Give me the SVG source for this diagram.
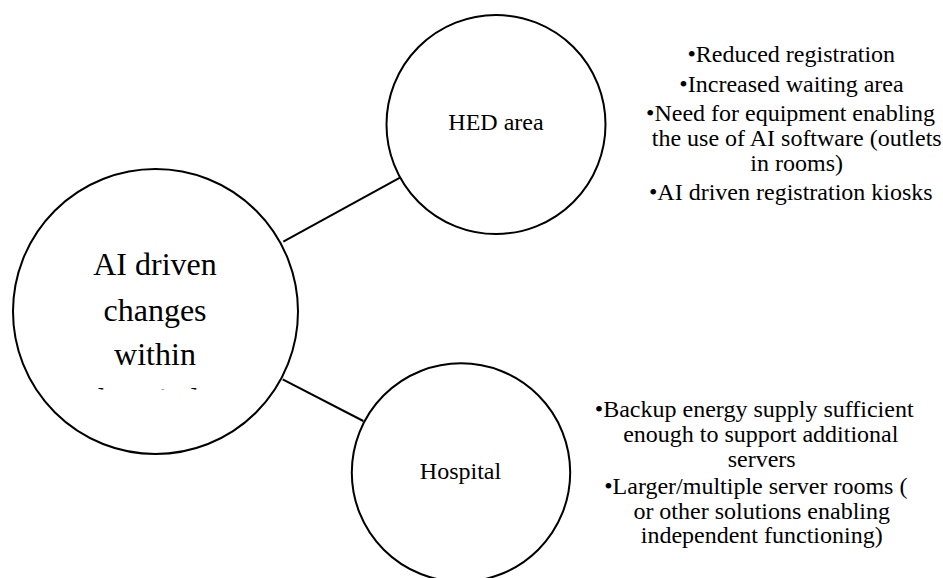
<svg xmlns="http://www.w3.org/2000/svg" width="943" height="578" viewBox="0 0 943 578">
  <style>
    .node { fill: #ffffff; stroke: #000000; stroke-width: 2; }
    .link { stroke: #000000; stroke-width: 2; fill: none; }
    text { font-family: "Liberation Serif", "Times New Roman", serif; fill: #000000; text-anchor: middle; }
    .big { font-size: 32px; }
    .mid { font-size: 24px; }
  </style>
  <defs>
    <!-- the centre label's text box ends just below "within" -->
    <clipPath id="centre-clip">
      <rect x="0" y="170" width="320" height="219.5"/>
    </clipPath>
  </defs>

  <g id="connectors">
    <line class="link" x1="283.3" y1="241.7" x2="400" y2="177.7"/>
    <line class="link" x1="282.7" y1="379.3" x2="363.3" y2="421"/>
  </g>

  <g id="node-centre">
    <circle class="node" cx="155.5" cy="311.5" r="142.5"/>
    <g clip-path="url(#centre-clip)">
      <text class="big" x="155" y="275">AI driven</text>
      <text class="big" x="155" y="320.5">changes</text>
      <text class="big" x="155" y="365">within</text>
      <text class="big" x="155" y="410">hospitals</text>
    </g>
  </g>

  <g id="node-hed">
    <circle class="node" cx="496" cy="124.5" r="109.5"/>
    <text class="mid" x="496" y="130">HED area</text>
  </g>

  <g id="node-hospital">
    <circle class="node" cx="461" cy="472.5" r="109.2"/>
    <text class="mid" x="460.5" y="479">Hospital</text>
  </g>

  <g id="notes-hed">
    <text class="mid" x="791.3" y="62.3">•Reduced registration</text>
    <text class="mid" x="791.5" y="91.7">•Increased waiting area</text>
    <text class="mid" x="790.5" y="120.7">•Need for equipment enabling</text>
    <text class="mid" x="796.7" y="145.7">the use of AI software (outlets</text>
    <text class="mid" x="796.7" y="171">in rooms)</text>
    <text class="mid" x="790.8" y="200">•AI driven registration kiosks</text>
  </g>

  <g id="notes-hospital">
    <text class="mid" x="754.2" y="416.7">•Backup energy supply sufficient</text>
    <text class="mid" x="760.8" y="441.7">enough to support additional</text>
    <text class="mid" x="761.7" y="466.5">servers</text>
    <text class="mid" x="755.8" y="494.3">•Larger/multiple server rooms (</text>
    <text class="mid" x="761.7" y="518.5">or other solutions enabling</text>
    <text class="mid" x="761.7" y="543.3">independent functioning)</text>
  </g>
</svg>
